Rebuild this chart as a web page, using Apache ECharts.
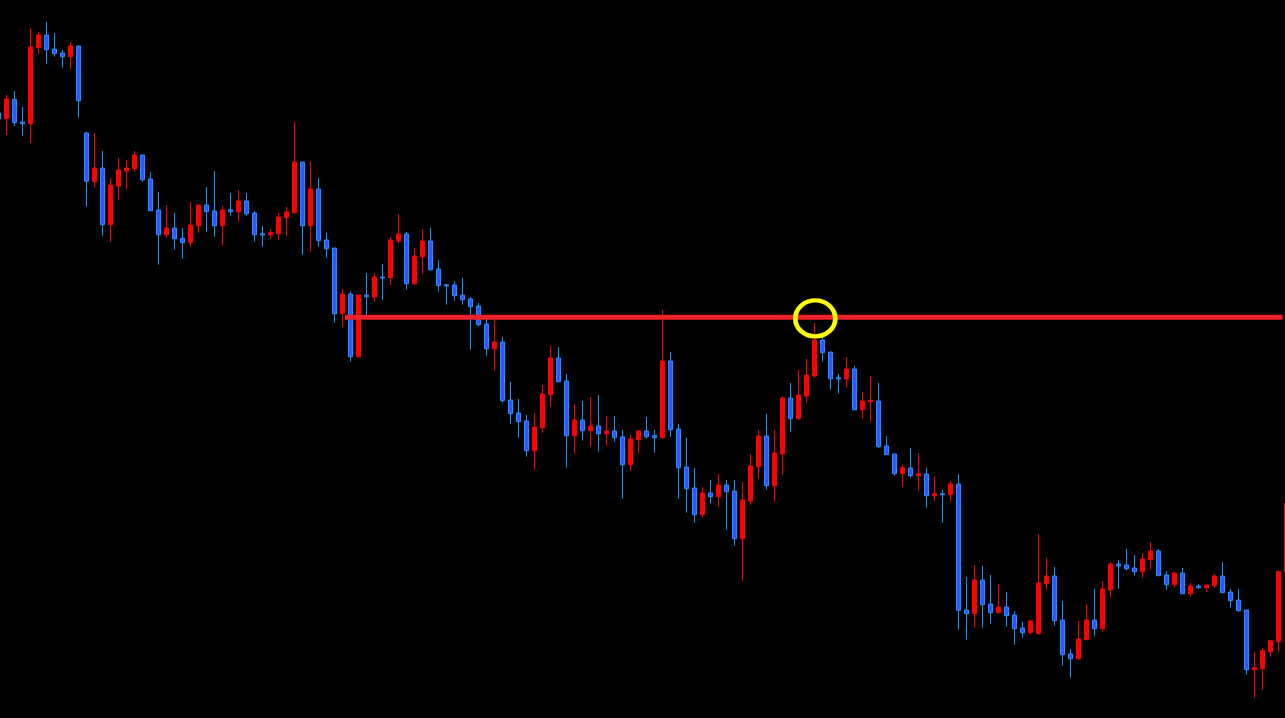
<!DOCTYPE html>
<html>
<head>
<meta charset="utf-8">
<script src="https://cdn.jsdelivr.net/npm/echarts@6/dist/echarts.min.js"></script>
<style>
html,body{margin:0;padding:0;background:#000;}
#chart{width:1285px;height:718px;}
</style>
</head>
<body>
<div id="chart"></div>
<script>
// Candle values (price units; no axis shown)
const opens = [605,599.3,618.7,596,594,670.3,683,669,665,661.3,672,585,536.3,550,493.3,532,547,549.3,563,539,508,483.3,490,479.7,475.3,492.3,513,507,492.3,508.3,506.3,517,505,484.3,483.3,484.3,500.3,505.3,556,492.3,529,478,470,404.3,424,361.3,423,421,441,440.3,477,484,434.3,461.3,477,449,433.3,433,423,419,412,394,369.3,376,318,305,297,267.3,290.3,323.3,360,337,282.3,298,287.3,292,284.3,287,281,253.3,278.3,287,282.3,280.3,357,289,251,230,203.3,225,221.3,233,227,179.3,217,251.3,282,232.3,264.3,320,299.3,322,342,378,366,340.3,339,349,308.3,316.3,317,272,264,244.3,250,242.3,244,222.3,224.3,223.3,234,108,104.3,138,114,105.3,111,103,90,85.3,84.3,134.3,142,98,64,59.3,78.3,98,89.3,128.3,154,153,150,146.3,158.3,167,143,133.3,145,124.3,132,130.3,132.3,142,126,118,108,48.3,49.3,66.3,76.3,146];
const closes = [599,619,595.3,594.3,671,683,668.3,664.3,661.3,672,617.3,536.7,550,493.3,533,548,550,563,538.3,507.3,483.3,490,479.3,475.3,493,513,506.3,492.3,508,506.3,517,504.3,483.3,483,485.3,501,506,556,492.3,529,477.3,469.3,404.3,424,361.3,423,421.3,441,440,478,484,434.3,462,477,448.3,432.3,432,422.3,418.3,411.3,393.3,369.3,376,317.3,304.3,296.3,267.3,291,324,360,336.3,282.3,298,287.3,292,284.3,287,280.3,253.3,279,287,281.3,280.3,357,288.3,250.3,229.3,203.3,225,221.3,233,226.3,179.3,218,252,282,232.3,265,320,299.3,323,343,378,365.3,339.3,339,349,308.3,317,317.7,271.3,263.3,244.3,250.3,242.3,244.3,222.3,224.3,223.3,234,107.7,104.3,138,113.3,105.3,111,102.3,89.3,85.3,97,135,142,97.3,63.3,59.3,79,98,89.3,129,154,152,149.3,146.3,159,167,142.3,133.3,145,124.3,132,130.3,133,142,125.3,117.3,107.3,48.3,50.3,67.3,77.3,146.3,215];
const lows = [594,583,592,582.3,575,664,654.3,661.3,650.3,649.3,600.3,511.3,530.3,482.3,476.3,518,529.3,546.3,536.3,507.3,453.3,480,468.3,459.3,471.3,485.3,486.3,481.3,472.3,502.3,496.3,502.3,476.3,471.3,479.3,478.3,482.3,505.3,463.3,466.3,471.3,460.3,395.3,391.3,356.3,361.3,403,416.3,418.3,433,475,428.3,433,444.3,447.3,426.3,413.3,417.3,413.3,368.3,391.3,362.3,347.3,315.3,294.3,280.3,261.3,248.3,285.3,311.3,336.3,250.3,264.3,277.3,271.3,266.3,272.3,276.3,219.3,247.3,264.3,279.3,265.3,279.3,281.3,219.3,205.3,195.3,200.3,214.3,211.3,188.3,172.3,137.3,213.3,239.3,228.3,216.3,243.3,286.3,298.3,316,340.3,356.3,328.3,324.3,330.3,308.3,299.3,296.3,270.3,263.3,242.3,231.3,240.3,227.3,210.3,217.3,195.3,216.3,88.3,78.3,90.3,90.3,94.3,105.3,91.3,73.3,80.3,83.3,83.3,128.3,92.3,52.3,40.3,58.3,78.3,82.3,86.3,120.3,129.3,147.3,142.3,140.3,148.3,142.3,128.3,130.3,124.3,121.3,129.3,126.3,130.3,125.3,110.3,106.3,43.3,20.3,28.3,61.3,66.3,144];
const highs = [610,623,627,611,690,686,696,685,668,676,672,586,585,567,540,560,558,567,563,546,526,513,505,490,516,513,531,547,512,525,528,525,507,492,489,505,511,596,556,557,540,485.3,470,429,427,423,445,445,454,481,504,486,470,489,490,458,434,437,440,421,415,400,398,381,336,319,303,305,333,372,371,344,314,317,321,323,302,302,288,283,288,301,288,408,366,294,280,250,231,238,244,238,238,236,264,288,304,288,322,335,348,359,395,386,366,344,361,352,326,342,335,282,264,253.3,270,265,250,242,228,237,244,141,153,152,143,134,126,107,96,98,184,160,151,117,69,97,114,129,137,156,158,169,163,165,176,169,147,146,150,135,134,133,144,156,129,129,108,66.3,70.3,78.3,147.3,218];
const categories = opens.map((_, i) => 'Bar ' + (i + 1));
// Horizontal level and marked touch point (bar position, price)
const levelLine = [[42.33, 400.7], [159.52, 400.7]];
const markedPoint = [[101.12, 399.6]];

const candleData = opens.map((o, i) => [o, closes[i], lows[i], highs[i]]);

const chart = echarts.init(document.getElementById('chart'), null, {renderer: 'canvas'});
chart.setOption({
  backgroundColor: '#000000',
  animation: false,
  grid: {left: -5.67, top: 0, width: 1296, height: 718, containLabel: false, outerBoundsMode: 'none'},
  xAxis: [
    {type: 'category', data: categories, boundaryGap: true, show: false},
    {type: 'value', min: -1.5, max: 160.5, show: false}
  ],
  yAxis: {type: 'value', min: 0, max: 718, show: false, splitLine: {show: false}},
  series: [
    {
      type: 'candlestick',
      xAxisIndex: 0,
      data: candleData,
      barWidth: 4,
      itemStyle: {
        color: '#ff0000', borderColor: '#ff0000',
        color0: '#3355ff', borderColor0: '#1e90ff',
        borderWidth: 1
      }
    },
    {
      type: 'line',
      xAxisIndex: 1,
      data: levelLine,
      symbol: 'none',
      lineStyle: {color: '#ee2229', width: 5, cap: 'butt'},
      z: 5
    },
    {
      type: 'scatter',
      xAxisIndex: 1,
      data: markedPoint,
      symbol: 'circle',
      symbolSize: [40, 36],
      itemStyle: {color: 'rgba(0,0,0,0)', borderColor: '#ffff00', borderWidth: 4.5, opacity: 1},
      emphasis: {disabled: true},
      z: 6
    }
  ]
});
</script>
</body>
</html>
